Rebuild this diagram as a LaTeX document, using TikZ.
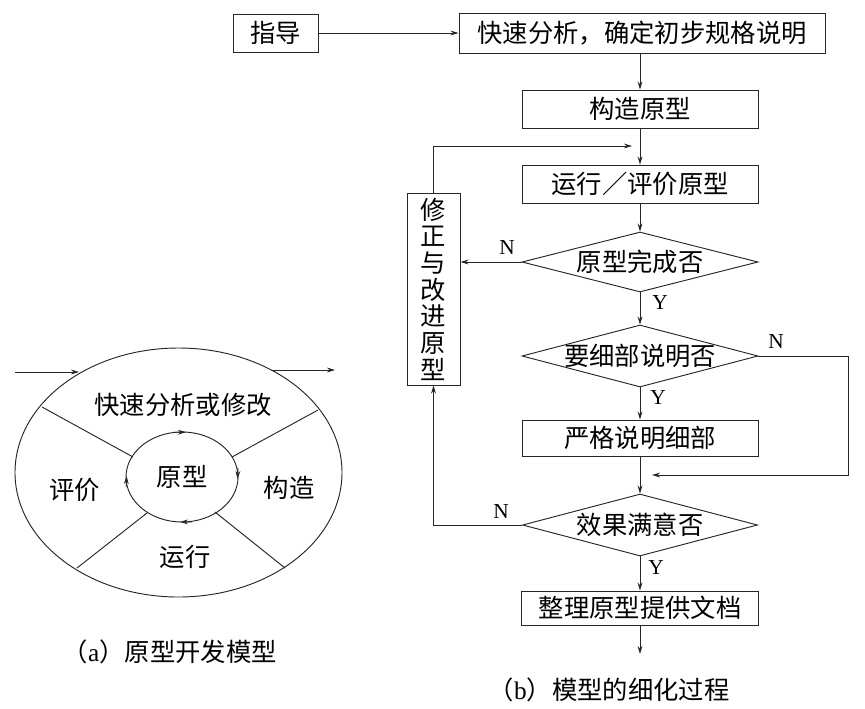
\documentclass[tikz,border=0pt]{standalone}
\usepackage{fontspec}
\setmainfont{Noto Sans CJK SC}
\newfontfamily\lat{Liberation Serif}
\usetikzlibrary{shapes.geometric,arrows.meta,calc}
\begin{document}
\begin{tikzpicture}[x=0.75pt,y=-0.75pt,
  line width=0.7pt,
  every node/.style={font=\fontsize{19}{20}\selectfont, text=black},
  box/.style={draw=black!85, rectangle, inner sep=0pt, minimum width=177pt, minimum height=28.5pt},
  dia/.style={draw=black!85, diamond, inner sep=0pt, minimum width=177pt, minimum height=46.5pt},
  ring/.style={draw=black!85, ellipse, inner sep=0pt},
  arr/.style={draw=black!85, -{Stealth[length=6pt,width=3.6pt]}},
  ln/.style={draw=black!85},
  yn/.style={font=\lat\fontsize{16}{16}\selectfont},
]
\fill[white] (0,0) rectangle (865,708);
\useasboundingbox (0,0) rectangle (865,708);

% ---------- (a) prototype model ----------
\node[ring, minimum width=245.25pt, minimum height=186.75pt] (outer) at (178.5,472.5) {};
\node[ring, minimum width=84pt, minimum height=67.5pt] (inner) at (182,477) {原型};
\coordinate (ula) at (42,407);  \coordinate (ulb) at (133,457);
\coordinate (ura) at (318,410); \coordinate (urb) at (232,457);
\coordinate (lla) at (77,568);  \coordinate (llb) at (147,513);
\coordinate (lra) at (285,568); \coordinate (lrb) at (215,512);
\draw[ln] (ula) -- (ulb);
\draw[ln] (ura) -- (urb);
\draw[ln] (lla) -- (llb);
\draw[ln] (lra) -- (lrb);
% arrows on inner ring (clockwise)
\coordinate (t1) at (174,432.3); \coordinate (t2) at (186,432.1);
\coordinate (r1) at (238,468);   \coordinate (r2) at (237.6,479);
\coordinate (b1) at (192,521.8); \coordinate (b2) at (180,522);
\coordinate (l1) at (126.2,487); \coordinate (l2) at (126.6,476);
\draw[arr] (t1) -- (t2);
\draw[arr] (r1) -- (r2);
\draw[arr] (b1) -- (b2);
\draw[arr] (l1) -- (l2);
% in / out arrows
\coordinate (inS) at (15,372);  \coordinate (inE) at (79,372);
\coordinate (outS) at (272,370); \coordinate (outE) at (335,370);
\draw[arr] (inS) -- (inE);
\draw[arr] (outS) -- (outE);
% labels
\node (lq) at (183,405) {快速分析或修改};
\node (le) at (75,490) {评价};
\node (lc) at (289,488) {构造};
\node (lr) at (185,557) {运行};
\node[anchor=west] (capa) at (58,652) {（{\lat a}）原型开发模型};

% ---------- (b) refinement ----------
\node[box, minimum width=63.75pt] (guide) at (275.5,33) {指导};
\node[box, minimum width=274.5pt, minimum height=30pt] (quick) at (642,33.5) {快速分析，确定初步规格说明};
\node[box] (build) at (640,109) {构造原型};
\node[box] (run) at (640,184) {运行／评价原型};
\node[draw=black!85, rectangle, inner sep=0pt, minimum width=39.75pt, minimum height=144pt, align=center,
      font=\fontsize{19}{20}\selectfont] (fix) at (433.5,289) {修\\正\\与\\改\\进\\原\\型};
\node[dia, minimum height=45pt] (d1) at (640,262) {};
\node (t1txt) at (d1) {原型完成否};
\node[dia] (d2) at (640,356) {};
\node (t2txt) at (d2) {要细部说明否};
\node[box, minimum height=27pt] (strict) at (640,438) {严格说明细部};
\node[dia, minimum width=176.25pt] (d3) at (640,525) {};
\node (t3txt) at (d3) {效果满意否};
\node[box, minimum width=177.75pt, minimum height=25.5pt] (final) at (640,608) {整理原型提供文档};

\draw[arr] (guide.east) -- (guide.east -| quick.west);
\draw[arr] (quick.south -| build.north) -- (build.north);
\draw[arr] (build) -- (run);
\coordinate (fb) at (632,146);
\draw[arr] (fix.north) |- (fb);
\draw[arr] (run) -- (d1);
\draw[arr] (d1.west) -- (d1.west -| fix.east);
\draw[arr] (d1) -- (d2);
\draw[arr] (d2) -- (strict);
\coordinate (rt) at (848,356);
\coordinate (merge) at (652,475);
\draw[arr] (d2.east) -- (rt) |- (merge);
\draw[arr] (strict) -- (d3);
\draw[arr] (d3.west) -| (fix.south);
\draw[arr] (d3) -- (final);
\coordinate (endp) at (640,654);
\draw[arr] (final) -- (endp);

\node[yn] (n1) at (507,248) {N};
\node[yn] (y1) at (660,303) {Y};
\node[yn] (n2) at (776,342) {N};
\node[yn] (y2) at (658,398) {Y};
\node[yn] (n3) at (501,512) {N};
\node[yn] (y3) at (656,568) {Y};

\node[anchor=west] (capb) at (484,690) {（{\lat b}）模型的细化过程};
\end{tikzpicture}
\end{document}
